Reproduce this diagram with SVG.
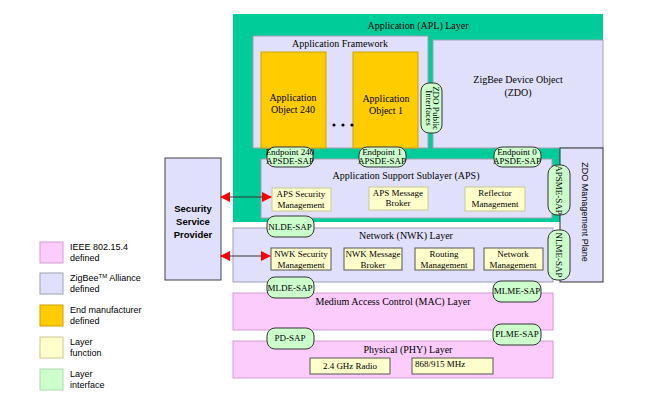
<svg xmlns="http://www.w3.org/2000/svg" width="646" height="416" viewBox="0 0 646 416">
<defs>
<style>
.s{font-family:"Liberation Serif",serif;font-size:10px;fill:#000;text-anchor:middle}
.ss{font-family:"Liberation Serif",serif;font-size:9px;fill:#000;text-anchor:middle}
.l{font-family:"Liberation Sans",sans-serif;font-size:9px;fill:#000}
.lav{fill:#e0e0fc;stroke:#a0a0b0;stroke-width:1}
.pink{fill:#fcccfc;stroke:#d0a0d0;stroke-width:1}
.fn{fill:#ffffcc;stroke:#c8c890;stroke-width:1}
.fnd{fill:#ffffcc;stroke:#555;stroke-width:1}
.pill{fill:#ccffcc;stroke:#333;stroke-width:1}
.org{fill:#ffcc00;stroke:#d0a000;stroke-width:1}
</style>
<marker id="ar" viewBox="0 0 10 10" refX="9" refY="5" markerWidth="10" markerHeight="10" markerUnits="userSpaceOnUse" orient="auto-start-reverse"><path d="M0,0L10,5L0,10z" fill="#ff0000"/></marker>
</defs>
<g id="apl"><rect x="233" y="14" width="370" height="208" fill="#00cc99"/><text class="s" x="418" y="29">Application (APL) Layer</text></g>
<g id="framework"><rect class="lav" x="253" y="36" width="175" height="112"/><text class="s" x="340" y="47">Application Framework</text></g>
<g id="ao240"><rect class="org" x="261" y="52" width="65" height="96"/><text class="s" x="293" y="101">Application</text><text class="s" x="293" y="113">Object 240</text></g>
<g id="ao1"><rect class="org" x="353" y="52" width="65" height="96"/><text class="s" x="386" y="102">Application</text><text class="s" x="386" y="114">Object 1</text></g>
<g id="dots"><circle cx="334" cy="125" r="1.6"/><circle cx="343" cy="125" r="1.6"/><circle cx="352" cy="125" r="1.6"/></g>
<g id="zdo"><rect class="lav" x="433" y="40" width="170" height="108"/><text class="s" x="518" y="83">ZigBee Device Object</text><text class="s" x="518" y="96">(ZDO)</text></g>
<g id="zdopub"><rect class="pill" x="421" y="83" width="21" height="50" rx="8"/><text class="ss" font-size="7" transform="translate(433,108) rotate(90)">ZDO Public</text><text class="ss" font-size="7" transform="translate(426,108) rotate(90)">Interfaces</text></g>
<g id="zdomp"><rect x="560" y="148" width="43" height="134" fill="#e0e0fc" stroke="#333"/><text font-family="Liberation Sans,sans-serif" font-size="9" text-anchor="middle" transform="translate(582,212) rotate(90)">ZDO Management Plane</text></g>
<g id="aps"><rect class="lav" x="261" y="159" width="291" height="59"/><text class="s" x="406" y="179">Application Support Sublayer (APS)</text></g>
<g id="apssec"><rect class="fn" x="272" y="188" width="59" height="23"/><text class="ss" x="301" y="197">APS Security</text><text class="ss" x="301" y="208">Management</text></g>
<g id="apsbrk"><rect class="fn" x="369" y="187" width="59" height="23"/><text class="ss" x="398" y="196">APS Message</text><text class="ss" x="398" y="206">Broker</text></g>
<g id="refl"><rect class="fn" x="465" y="187" width="60" height="24"/><text class="ss" x="495" y="196">Reflector</text><text class="ss" x="495" y="207">Management</text></g>
<g id="ep240"><rect class="pill" x="267" y="147" width="46" height="20" rx="8"/><text class="ss" font-size="7.5" x="290" y="155">Endpoint 240</text><text class="ss" font-size="7.5" x="290" y="164">APSDE-SAP</text></g>
<g id="ep1"><rect class="pill" x="359" y="147" width="47" height="20" rx="8"/><text class="ss" font-size="7.5" x="382" y="155">Endpoint 1</text><text class="ss" font-size="7.5" x="382" y="164">APSDE-SAP</text></g>
<g id="ep0"><rect class="pill" x="494" y="147" width="47" height="20" rx="8"/><text class="ss" font-size="7.5" x="517" y="155">Endpoint 0</text><text class="ss" font-size="7.5" x="517" y="164">APSDE-SAP</text></g>
<g id="apsme"><rect class="pill" x="548" y="165" width="22" height="50" rx="9"/><text class="ss" font-size="7.5" transform="translate(556,190) rotate(90)">APSME-SAP</text></g>
<g id="nwk"><rect class="lav" x="233" y="228" width="320" height="54"/><text class="s" x="406" y="239">Network (NWK) Layer</text></g>
<g id="nwksec"><rect class="fnd" x="271" y="248" width="60" height="22"/><text class="ss" x="301" y="257">NWK Security</text><text class="ss" x="301" y="268">Management</text></g>
<g id="nwkbrk"><rect class="fnd" x="344" y="248" width="58" height="22"/><text class="ss" x="373" y="257">NWK Message</text><text class="ss" x="373" y="268">Broker</text></g>
<g id="rout"><rect class="fnd" x="415" y="248" width="59" height="22"/><text class="ss" x="444" y="257">Routing</text><text class="ss" x="444" y="268">Management</text></g>
<g id="netm"><rect class="fnd" x="484" y="248" width="59" height="22"/><text class="ss" x="513" y="257">Network</text><text class="ss" x="513" y="268">Management</text></g>
<g id="nlde"><rect class="pill" x="267" y="216" width="47" height="21" rx="8"/><text class="ss" font-size="8" x="290" y="230">NLDE-SAP</text></g>
<g id="nlme"><rect class="pill" x="548" y="230" width="22" height="50" rx="9"/><text class="ss" font-size="7.5" transform="translate(556,255) rotate(90)">NLME-SAP</text></g>
<g id="mac"><rect class="pink" x="233" y="293" width="320" height="37"/><text class="s" x="393" y="305">Medium Access Control (MAC) Layer</text></g>
<g id="mlde"><rect class="pill" x="267" y="277" width="47" height="21" rx="8"/><text class="ss" font-size="8" x="290" y="291">MLDE-SAP</text></g>
<g id="mlme"><rect class="pill" x="493" y="281" width="48" height="21" rx="8"/><text class="ss" font-size="8" x="517" y="294">MLME-SAP</text></g>
<g id="phy"><rect class="pink" x="233" y="341" width="320" height="37"/><text class="s" x="408" y="353">Physical (PHY) Layer</text></g>
<g id="pd"><rect class="pill" x="267" y="328" width="47" height="21" rx="8"/><text class="ss" font-size="8" x="290" y="341">PD-SAP</text></g>
<g id="plme"><rect class="pill" x="493" y="324" width="48" height="21" rx="8"/><text class="ss" font-size="8" x="517" y="337">PLME-SAP</text></g>
<g id="radio"><rect class="fnd" x="310" y="358" width="80" height="16"/><text class="ss" x="350" y="369">2.4 GHz Radio</text></g>
<g id="mhz"><rect class="fnd" x="412" y="358" width="81" height="16"/><text class="ss" x="440" y="367">868/915 MHz</text></g>
<g id="ssp"><rect x="165" y="158" width="56" height="122" fill="#e0e0fc" stroke="#444"/><text font-family="Liberation Sans,sans-serif" font-size="9.5" font-weight="bold" text-anchor="middle"><tspan x="193" y="212">Security</tspan><tspan x="193" y="225">Service</tspan><tspan x="193" y="238">Provider</tspan></text></g>
<g id="connectors" stroke="#333" stroke-width="1" fill="none">
<line x1="221" y1="197" x2="271" y2="197" marker-start="url(#ar)" marker-end="url(#ar)"/>
<line x1="221" y1="256" x2="270" y2="256" marker-start="url(#ar)" marker-end="url(#ar)"/>
</g>
<g id="legend">
<rect class="pink" x="40" y="242" width="23" height="21"/><text class="l" x="70" y="250">IEEE 802.15.4</text><text class="l" x="70" y="261" font-size="8">defined</text>
<rect class="lav" x="40" y="273" width="23" height="21"/><text class="l" x="70" y="281">ZigBee<tspan font-size="6" dy="-3">TM</tspan><tspan dy="3"> Alliance</tspan></text><text class="l" x="70" y="292" font-size="8">defined</text>
<rect class="org" x="40" y="305" width="23" height="21"/><text class="l" x="70" y="313">End manufacturer</text><text class="l" x="70" y="324" font-size="8">defined</text>
<rect class="fn" x="40" y="337" width="23" height="21"/><text class="l" x="70" y="345">Layer</text><text class="l" x="70" y="356" font-size="8">function</text>
<rect x="40" y="369" width="23" height="21" fill="#ccffcc" stroke="#b0d8b0"/><text class="l" x="70" y="377">Layer</text><text class="l" x="70" y="388" font-size="8">interface</text>
</g>
</svg>
